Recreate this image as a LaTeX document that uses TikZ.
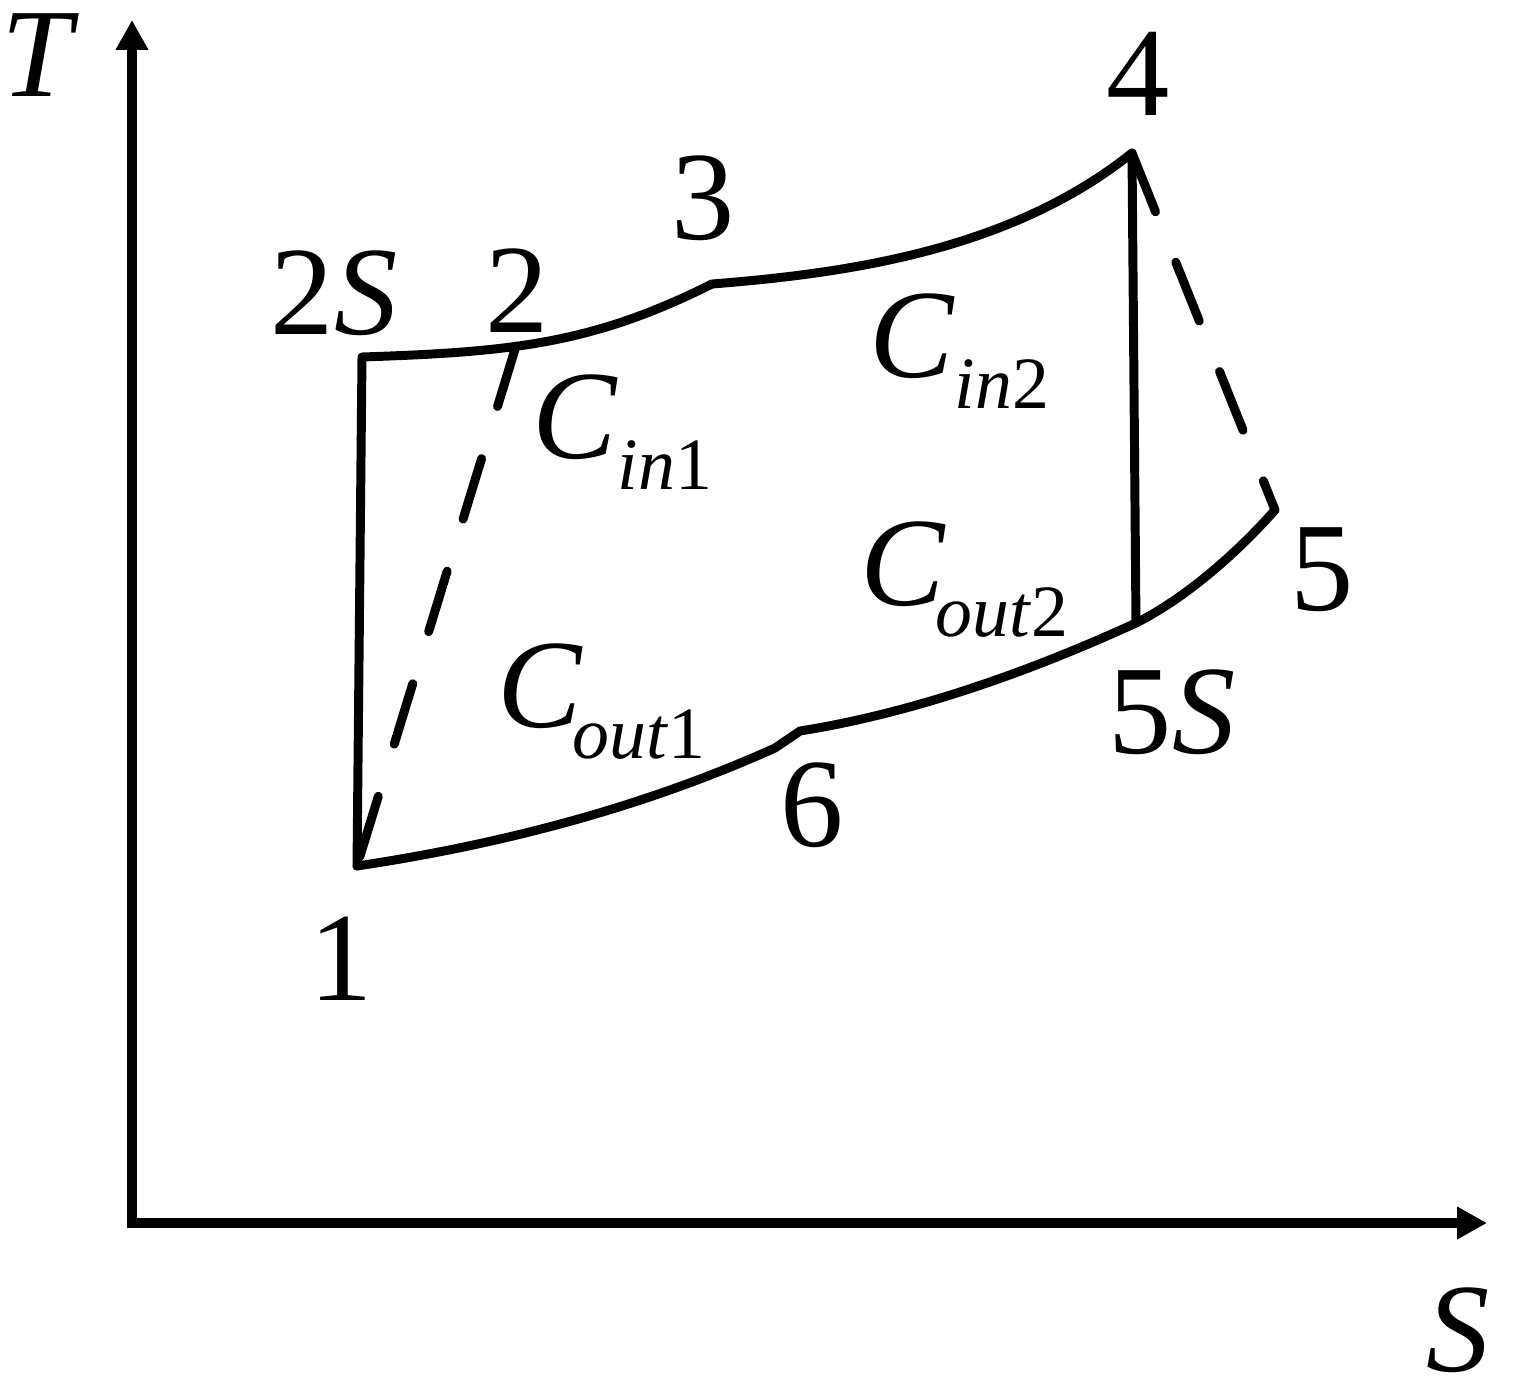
\documentclass[tikz,border=0pt]{standalone}
\usepackage{fontspec}
\setmainfont{Liberation Serif}
\usetikzlibrary{arrows.meta}
\newcommand{\subtxt}[1]{\raisebox{-18pt}{\fontsize{42}{42}\selectfont #1}}
\begin{document}
\begin{tikzpicture}[x=0.02cm,y=-0.02cm,
  curve/.style={line width=5.1pt, line cap=round, line join=round},
  dashline/.style={curve, dash pattern=on 36pt off 31pt},
  axis/.style={line width=5.6pt},
  lbl/.style={anchor=base, inner sep=0pt, text height=0.7em, text depth=0pt, font=\fontsize{72}{80}\selectfont},
  clbl/.style={anchor=base west, inner sep=0pt, text height=0.7em, text depth=0pt, font=\fontsize{72}{80}\selectfont}]
\useasboundingbox (0,0) rectangle (1516,1393);
\fill[white] (0,0) rectangle (1516,1393);
% axes
\coordinate (O) at (132,1223);
\coordinate (Ttip) at (132,20);
\coordinate (Stip) at (1487,1223);
\draw[axis, {Triangle[length=17pt,width=17.5pt]}-{Triangle[length=17pt,width=17.5pt]}] (Ttip) -- (O) -- (Stip);
% state points
\coordinate (p1) at (357,866);
\coordinate (p2s) at (362,357);
\coordinate (p2) at (516,346);
\coordinate (p3) at (712,284);
\coordinate (p4) at (1132,153);
\coordinate (p5) at (1275,510);
\coordinate (p5s) at (1136,623);
\coordinate (k6) at (775,748);
\coordinate (p6) at (800,731);
% cycle
\draw[curve] (p1) -- (p2s) .. controls (512,352) and (592,344) .. (p3)
  .. controls (852,273) and (1012,249) .. (p4) -- (p5s);
\draw[curve] (p1) .. controls (517,842) and (655,802) .. (k6) -- (p6)
  .. controls (920,712) and (1040,667) .. (p5s)
  .. controls (1186,598) and (1238,552) .. (p5);
\draw[dashline] (p2) -- (p1);
\draw[dashline] (p4) -- (p5);
% labels
\node[lbl] (lT) at (40,96) {\textit{T}};
\node[lbl] (lS) at (1458,1371) {\textit{S}};
\node[lbl] (l2s) at (334,334) {2\textit{S}};
\node[lbl] (l2) at (517,332) {2};
\node[lbl] (l3) at (703,239) {3};
\node[lbl] (l4) at (1138,115) {4};
\node[lbl] (l5) at (1322,610) {5};
\node[lbl] (l5s) at (1172,753) {5\textit{S}};
\node[lbl] (l6) at (812,846) {6};
\node[lbl] (l1) at (341,1000) {1};
\node[clbl] (cin1) at (532,458) {\textit{C}\subtxt{\textit{in}1}};
\node[clbl] (cin2) at (869,377) {\textit{C}\subtxt{\textit{in}2}};
\node[clbl] (cout1) at (497,727) {\textit{C}\kern-6pt\subtxt{\textit{out}1}};
\node[clbl] (cout2) at (860,605) {\textit{C}\kern-6pt\subtxt{\textit{out}2}};
\end{tikzpicture}
\end{document}
